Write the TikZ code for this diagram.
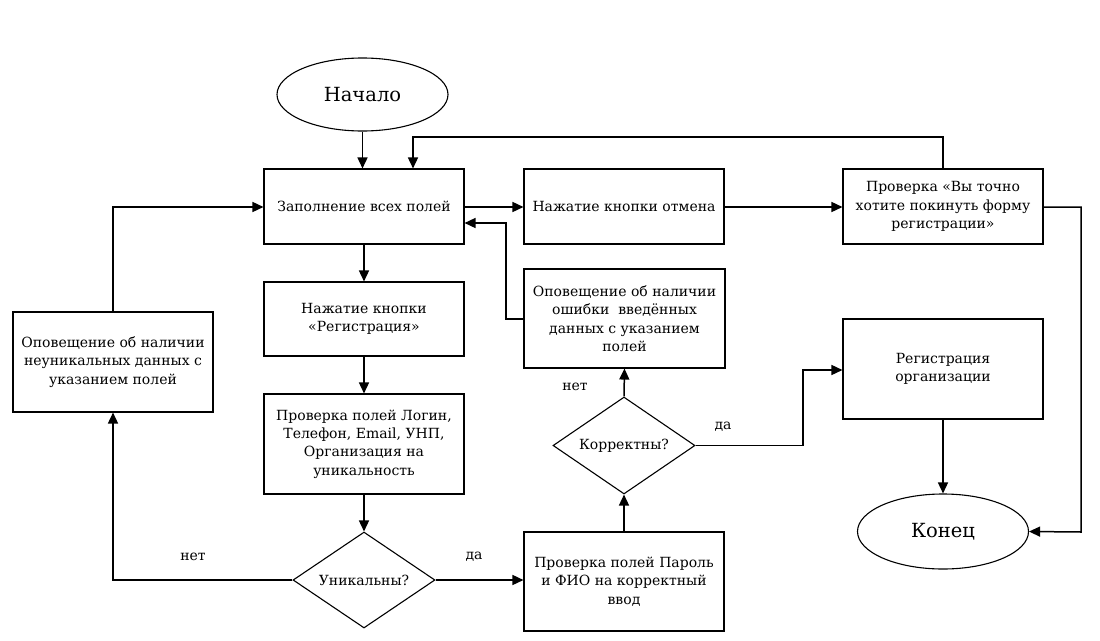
\documentclass[tikz,border=0pt]{standalone}
\usepackage{fontspec}
\setmainfont{DejaVu Serif}
\usetikzlibrary{shapes.geometric,arrows.meta}
\tikzset{
  every node/.style={font=\fontsize{14}{18.4}\selectfont},
  box/.style={draw, rectangle, line width=1.1pt, inner sep=0pt, minimum width=200pt, align=center},
  oval/.style={draw, ellipse, line width=1.1pt, inner sep=0pt, font=\fontsize{19.5}{24}\selectfont},
  decision/.style={draw, diamond, line width=1.1pt, inner sep=0pt, shape aspect=1.5, minimum width=142pt, minimum height=96pt},
  arr/.style={line width=1.5pt, -{Triangle[length=11pt,width=10pt]}},
  lbl/.style={inner sep=0pt}
}
\begin{document}
\begin{tikzpicture}[x=1pt,y=-1pt]
\useasboundingbox (0,0) rectangle (1100,640);
\node[oval, minimum width=171pt, minimum height=73pt] (start) at (362.5,94.5) {Начало};
\node[box, minimum height=75pt] (fill) at (364,206.5) {Заполнение всех полей};
\node[box, minimum height=75pt] (cancel) at (624,206.5) {Нажатие кнопки отмена};
\node[box, minimum height=75pt] (confirm) at (943,206.5) {Проверка «Вы точно\\хотите покинуть форму\\регистрации»};
\node[box, minimum height=74pt] (pressreg) at (364,319) {Нажатие кнопки\\«Регистрация»};
\node[box, minimum width=201pt, minimum height=99pt] (errnote) at (624.5,318.5) {Оповещение об наличии\\ошибки\ \ введённых\\данных с указанием\\полей};
\node[box, minimum height=100pt] (nonuniq) at (113,362) {Оповещение об наличии\\неуникальных данных с\\указанием полей};
\node[box, minimum height=100pt] (checkuniq) at (364,444) {Проверка полей Логин,\\Телефон, Email, УНП,\\Организация на\\уникальность};
\node[decision] (uniq) at (364,580) {Уникальны?};
\node[box, minimum height=99pt] (checkpwd) at (624,581.5) {Проверка полей Пароль\\и ФИО на корректный\\ввод};
\node[decision, minimum height=97pt] (correct) at (624,445.5) {Корректны?};
\node[box, minimum height=100pt] (reg) at (943,369) {Регистрация\\организации};
\node[oval, minimum width=171pt, minimum height=75pt] (end) at (943,531.5) {Конец};

\coordinate (c1) at (943,137);
\coordinate (c2) at (413,137);
\coordinate (c3) at (506,319);
\coordinate (c4) at (506,223);
\coordinate (c5) at (113,580);
\coordinate (c6) at (113,207);
\coordinate (c7) at (803,445.5);
\coordinate (c8) at (803,370);
\coordinate (c9) at (1081,207);
\coordinate (c10) at (1081,532);

\draw[arr] (start.south) -- (start.south |- fill.north);
\draw[arr] (confirm.north) -- (c1) -- (c2) -- (c2 |- fill.north);
\draw[arr] (fill.east |- c9) -- (cancel.west |- c9);
\draw[arr] (cancel.east |- c9) -- (confirm.west |- c9);
\draw[arr] (errnote.west |- c3) -- (c3) -- (c4) -- (fill.east |- c4);
\draw[arr] (fill.south) -- (pressreg.north);
\draw[arr] (pressreg.south) -- (checkuniq.north);
\draw[arr] (checkuniq.south) -- (uniq.north);
\draw[arr] (uniq.west) -- (c5) -- (nonuniq.south);
\draw[arr] (nonuniq.north) -- (c6) -- (fill.west |- c6);
\draw[arr] (uniq.east) -- (checkpwd.west |- uniq.east);
\draw[arr] (checkpwd.north) -- (correct.south);
\draw[arr] (correct.north) -- (errnote.south);
\draw[arr] (correct.east) -- (c7) -- (c8) -- (reg.west |- c8);
\draw[arr] (reg.south) -- (end.north);
\draw[arr] (confirm.east |- c9) -- (c9) -- (c10) -- (end.east);

\node[lbl] (l1) at (575,387) {нет};
\node[lbl] (l2) at (723,427) {да};
\node[lbl] (l3) at (193,557) {нет};
\node[lbl] (l4) at (474,557) {да};
\end{tikzpicture}
\end{document}
